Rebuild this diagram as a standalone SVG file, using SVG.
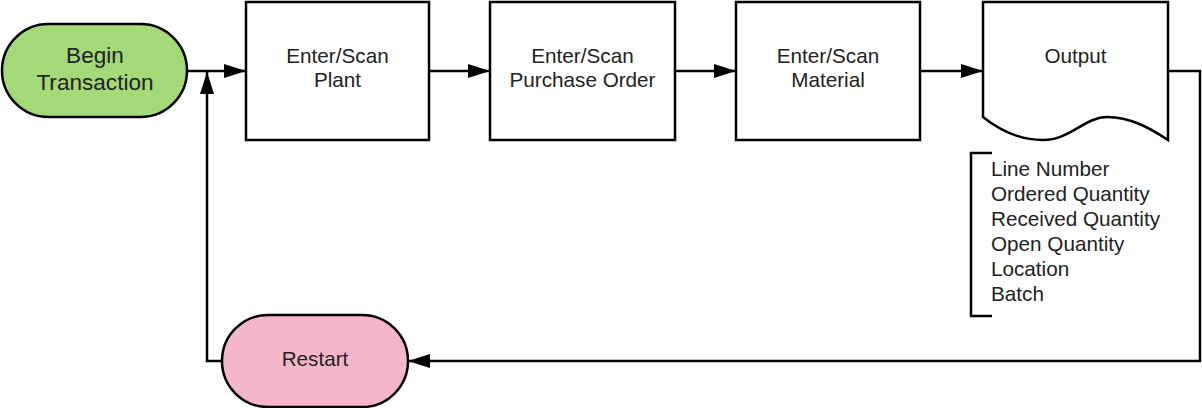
<svg xmlns="http://www.w3.org/2000/svg" width="1202" height="408" viewBox="0 0 1202 408">
<style>
.shape{stroke:#000;stroke-width:2.5;}
.box{fill:#fff;}
.t{font-family:"Liberation Sans",Arial,sans-serif;font-size:20.7px;fill:#222;text-anchor:middle;}
.tl{font-family:"Liberation Sans",Arial,sans-serif;font-size:20.7px;fill:#222;}
.c{fill:none;stroke:#000;stroke-width:2.5;}
</style>
<defs>
<marker id="ah" viewBox="0 0 22 14" refX="22" refY="7" markerWidth="22" markerHeight="14" markerUnits="userSpaceOnUse" orient="auto">
<path d="M0,0 L22,7 L0,14 Z" fill="#000"/>
</marker>
</defs>
<rect width="1202" height="408" fill="#fff"/>
<g id="connectors">
<path class="c" d="M187,71 L246,71" marker-end="url(#ah)"/>
<path class="c" d="M429,71 L490,71" marker-end="url(#ah)"/>
<path class="c" d="M675,71 L736,71" marker-end="url(#ah)"/>
<path class="c" d="M920,71 L983,71" marker-end="url(#ah)"/>
<path class="c" d="M1168,71 L1200,71 L1200,361 L408,361" marker-end="url(#ah)"/>
<path class="c" d="M222,361 L207,361 L207,72" marker-end="url(#ah)"/>
</g>
<g id="begin">
<rect class="shape" x="2" y="24" width="185" height="93" rx="46.5" fill="#a3d977"/>
<text class="t" x="95" y="63" style="font-size:22.6px">Begin</text>
<text class="t" x="95" y="90" style="font-size:22.6px">Transaction</text>
</g>
<g id="plant">
<rect class="shape box" x="246" y="2" width="183" height="138"/>
<text class="t" x="337.5" y="63">Enter/Scan</text>
<text class="t" x="337.5" y="87">Plant</text>
</g>
<g id="purchase-order">
<rect class="shape box" x="490" y="2" width="185" height="138"/>
<text class="t" x="582.5" y="63">Enter/Scan</text>
<text class="t" x="582.5" y="87">Purchase Order</text>
</g>
<g id="material">
<rect class="shape box" x="736" y="2" width="184" height="138"/>
<text class="t" x="828" y="63">Enter/Scan</text>
<text class="t" x="828" y="87">Material</text>
</g>
<g id="output">
<path class="shape box" d="M983,2 L1168,2 L1168,140 C1150,128 1130,117 1107,117 C1085,117 1070,140 1043,140 C1023,140 1003,133 983,117 Z"/>
<text class="t" x="1075.5" y="63">Output</text>
</g>
<g id="output-fields">
<path class="c" d="M992,153 L971,153 L971,316 L992,316"/>
<text class="tl" x="991" y="176">Line Number</text>
<text class="tl" x="991" y="201">Ordered Quantity</text>
<text class="tl" x="991" y="226">Received Quantity</text>
<text class="tl" x="991" y="251">Open Quantity</text>
<text class="tl" x="991" y="276">Location</text>
<text class="tl" x="991" y="301">Batch</text>
</g>
<g id="restart">
<rect class="shape" x="222" y="315" width="186" height="92" rx="46" fill="#f4b6c8"/>
<text class="t" x="315" y="366">Restart</text>
</g>
</svg>
